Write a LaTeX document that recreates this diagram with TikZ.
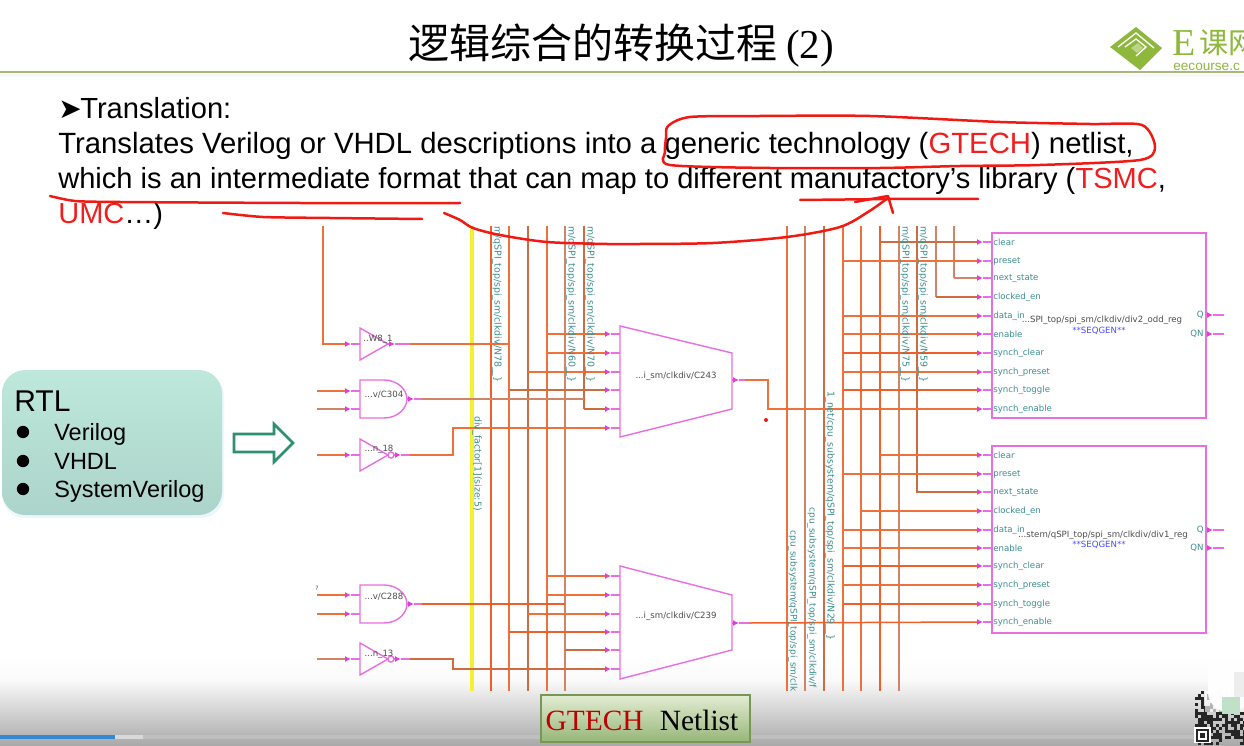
\documentclass[tikz,border=0pt]{standalone}
\usepackage{fontspec}
\usetikzlibrary{arrows.meta,calc}
\setmainfont{Liberation Sans}
\newfontfamily\cjkfont{Noto Sans CJK SC}
\newfontfamily\tmsfont{Liberation Serif}
\newfontfamily\schfont{DejaVu Sans}
\newcommand\pxf[1]{\fontsize{\fpeval{#1*0.6}pt}{\fpeval{#1*0.72}pt}\selectfont}
\definecolor{wireO}{HTML}{F0703A}
\definecolor{wireR}{HTML}{EE5F2A}
\definecolor{wireB}{HTML}{D08468}
\definecolor{wireD}{HTML}{CC6C40}
\definecolor{gatec}{HTML}{E86FE0}
\definecolor{pinc}{HTML}{E040D8}
\definecolor{tealtxt}{HTML}{3B8E90}
\definecolor{inkred}{HTML}{F01A14}
\definecolor{txtred}{HTML}{F01E1E}
\definecolor{logog}{HTML}{8DB83C}
\tikzset{
  x=0.6pt,y=-0.6pt,
  wire/.style={line width=0.9pt,wireO},
  gate/.style={line width=0.85pt,gatec},
  stub/.style={line width=0.75pt,gatec},
  tip/.style={-{Latex[length=3.6pt,width=3.6pt,color=pinc]}},
  ink/.style={line width=1.5pt,inkred,line cap=round,line join=round},
  sch/.style={inner sep=0pt,font=\schfont\pxf{8.6},text=#1},
  sch/.default=black!70,
  pinlab/.style={inner sep=0pt,anchor=west,font=\schfont\pxf{8.6},text=tealtxt},
  vlab/.style={inner sep=0pt,anchor=west,rotate=-90,font=\schfont\pxf{9.4},text=tealtxt},
  vlabs/.style={vlab,font=\schfont\pxf{9.0}},
  line/.style={inner sep=0pt,anchor=base west,font=\pxf{29}},
  rtlitem/.style={inner sep=0pt,anchor=base west,font=\pxf{23.5}},
  dotb/.style={circle,fill=black,inner sep=0pt,minimum size=7.4pt},
}
\newcommand\vbus[5]{\coordinate (#1-t) at (#2,#3);\coordinate (#1-b) at (#2,#4);\draw[wire,#5] (#1-t) -- (#1-b);}
% input pin: body edge #1 at (#2,#3), wire end #1-a
\newcommand\inpin[3]{\coordinate (#1) at (#2,#3);\coordinate (#1-a) at (#2-15,#3);\coordinate (#1-m) at (#2-9,#3);
  \draw[stub,tip] (#1-a) -- (#1-m);\draw[stub] (#1-m) -- (#1);}
\newcommand\outpin[4]{\coordinate (#1) at (#2,#3);\coordinate (#1-e) at (#2+#4,#3);\coordinate (#1-m) at (#2+7,#3);
  \draw[stub,tip] (#1) -- (#1-m);\draw[stub] (#1-m) -- (#1-e);}
\begin{document}
\begin{tikzpicture}
\useasboundingbox (0,0) rectangle (1244,746);
\clip (0,0) rectangle (1244,746);
\fill[white] (0,0) rectangle (1244,746);
% bottom fade
\shade[top color=white,bottom color=black!2] (0,655) rectangle (1244,680);
\shade[top color=black!2,bottom color=black!34] (0,680) rectangle (1244,746);
\fill[black!25] (143,735) rectangle (1244,738.5);
\fill[black!15] (115,735) rectangle (143,738.5);
\fill[cyan!60!blue!85!white] (0,735) rectangle (115,738.5);
% header
\fill[black!3] (0,74) rectangle (1244,77);
\draw[line width=1.6pt,color={rgb,255:red,168;green,184;blue,120}] (0,72) coordinate (hl) -- (1244,72) coordinate (hr);
\node[inner sep=0pt,anchor=base] (title) at (621,59) {\cjkfont\pxf{41}逻辑综合的转换过程 \tmsfont\pxf{41}(2)};
% logo
\fill[logog] (1110,47) -- (1136,27) -- (1162,48) -- (1140,70) -- cycle;
\draw[white,line width=0.8pt] (1118,47) -- (1136,33) -- (1154,48);
\draw[white,line width=0.8pt] (1125,47) -- (1136,39) -- (1146,47) -- (1136,56);
\fill[logog!60!white] (1131,48) -- (1138,43) -- (1143,48) -- (1137,53) -- cycle;
\node[inner sep=0pt,anchor=base west,text=logog] (logoe) at (1172,56) {\tmsfont\pxf{38}E};
\node[inner sep=0pt,anchor=base west,text=logog] (logoc) at (1199,54) {\cjkfont\pxf{29}课网};
\node[inner sep=0pt,anchor=base west,text=logog] (logou) at (1173,71) {\pxf{13.6}eecourse.c};
% slide text
\node[line] (t1a) at (58,119) {\schfont\pxf{28}➤};
\node[line] (t1) at (80,119) {\pxf{29.1}Translation:};
\node[line] (t2) at (58,154) {\pxf{29.3}Translates Verilog or VHDL descriptions into a generic technology (\textcolor{txtred}{GTECH}) netlist,};
\node[line] (t3) at (58,189) {\pxf{29.08}which is an intermediate format that can map to different manufactory’s library (\textcolor{txtred}{TSMC},};
\node[line] (t4) at (58,224) {\textcolor{txtred}{UMC}…)};
% RTL box
\fill[black!12!cyan!8,rounded corners=14pt] (2,373) rectangle (224,518);
\shade[top color={rgb,255:red,190;green,232;blue,219},bottom color={rgb,255:red,172;green,212;blue,202},rounded corners=14pt] (2,370) rectangle (222,515);
\node[inner sep=0pt,anchor=base west,font=\pxf{30}] (rtl) at (14,411) {RTL};
\foreach \n/\y/\tx in {1/432/Verilog,2/461/VHDL,3/489/SystemVerilog}{
  \node[dotb] (bul\n) at (23,\y) {};
  \node[rtlitem] (item\n) at (54,\y+8) {\tx};
}
\draw[line width=1.6pt,color={rgb,255:red,46;green,144;blue,112},fill=white] (234,434) -- (274,434) -- (274,424) -- (293,443) -- (274,462) -- (274,452) -- (234,452) -- cycle;
% buses
\vbus{vy}{472}{226}{691}{line width=2.4pt,color={rgb,255:red,245;green,240;blue,50}}
\vbus{v491}{491}{226}{691}{wireR}
\vbus{v509}{509}{226}{691}{wireO}
\vbus{v528}{528}{226}{691}{wireD}
\vbus{v547}{547}{226}{691}{wireO}
\vbus{v565}{565}{226}{691}{wireB}
\vbus{v584}{584}{226}{409}{wireD}
\vbus{v787}{787}{226}{691}{wireO}
\vbus{v805}{805}{226}{691}{wireB}
\vbus{v824}{824}{226}{691}{wireD}
\vbus{v843}{843}{226}{691}{wireO}
\vbus{v861}{861}{226}{691}{wireO}
\vbus{v880}{880}{226}{691}{wireR}
\vbus{v899}{899}{226}{691}{wireB}
\vbus{v917}{917}{226}{493}{wireD}
\vbus{v936}{936}{226}{297}{wireB}
\vbus{v954}{954}{226}{278}{wireB}
% gates
\draw[gate] (360,328) -- (388,344) -- (360,360) -- cycle;
\draw[gate] (360,439) -- (388,455) -- (360,471) -- cycle;
\draw[gate] (391,455) circle (3);
\draw[gate] (360,643) -- (388,659) -- (360,675) -- cycle;
\draw[gate] (391,659) circle (3);
\draw[gate] (360,380) -- (384,380) .. controls (398,380) and (407,390) .. (407,399) .. controls (407,408) and (398,418) .. (384,418) -- (360,418) -- cycle;
\draw[gate] (360,585) -- (384,585) .. controls (398,585) and (407,595) .. (407,604) .. controls (407,613) and (398,623) .. (384,623) -- (360,623) -- cycle;
% muxes
\draw[gate] (620,326) -- (732,353) -- (732,409) -- (620,437) -- cycle;
\draw[gate] (620,566) -- (732,595) -- (732,650) -- (620,679) -- cycle;
% registers
\draw[gate] (992,233) rectangle (1206,418);
\draw[gate] (992,446) rectangle (1206,633);
% gate pins
\inpin{w8i}{360}{344}
\outpin{w8o}{388}{344}{22}
\inpin{c304a}{360}{391}
\inpin{c304b}{360}{409}
\outpin{c304o}{407}{399}{15}
\inpin{n18i}{360}{455}
\outpin{n18o}{394}{455}{16}
\inpin{c288a}{360}{595}
\inpin{c288b}{360}{614}
\outpin{c288o}{407}{604}{15}
\inpin{n13i}{360}{659}
\outpin{n13o}{394}{659}{16}
% free wire ends
\coordinate (f323) at (323,226);
\coordinate (f304a) at (317,391);
\coordinate (f304b) at (317,409);
\coordinate (f18) at (317,455);
\coordinate (f288a) at (317,595);
\coordinate (f288b) at (317,614);
\coordinate (f13) at (317,659);
\draw[wire] (f323) |- (w8i-a);
\draw[wire] (f304a) -- (c304a-a);
\draw[wire,wireB] (f304b) -- (c304b-a);
\draw[wire] (f18) -- (n18i-a);
\draw[wire] (f288a) -- (c288a-a);
\draw[wire] (f288b) -- (c288b-a);
\draw[wire,wireB] (f13) -- (n13i-a);
\draw[wire] (w8o-e) -- (v509-t |- w8o-e);
\draw[wire,wireB] (c304o-e) -- (v584-t |- c304o-e);
\draw[wire,wireR] (c288o-e) -- (v565-t |- c288o-e);
% C243 inputs
\foreach \n/\y in {1/334,2/353,3/372,4/390,5/409,6/428}{
  \inpin{mA\n}{620}{\y}
}
\foreach \n/\vv/\cc in {1/v547/wireO,2/v547/wireO,3/v528/wireO,4/v509/wireD,5/v584/wireD}{
  \draw[wire,\cc] (\vv-t |- mA\n-a) -- (mA\n-a);
}
\coordinate (n18j) at (453,455);
\draw[wire] (n18o-e) -- (n18j) |- (mA6-a);
% C239 inputs
\foreach \n/\y in {1/576,2/595,3/614,4/632,5/650,6/669}{
  \inpin{mB\n}{620}{\y}
}
\foreach \n/\vv/\cc in {1/v547/wireO,2/v547/wireO,3/v528/wireO,4/v509/wireR,5/v565/wireD}{
  \draw[wire,\cc] (\vv-t |- mB\n-a) -- (mB\n-a);
}
\coordinate (n13j) at (453,659);
\draw[wire,wireD] (n13o-e) -- (n13j) |- (mB6-a);
% register pins
\foreach \n/\y/\tx in {1/242/clear,2/261/preset,3/278/next\_state,4/297/clocked\_en,5/316/data\_in,6/334/enable,7/353/synch\_clear,8/372/synch\_preset,9/390/synch\_toggle,10/409/synch\_enable}{
  \inpin{rA\n}{992}{\y}
  \node[pinlab] (rAl\n) at (993,\y) {\tx};
}
\foreach \n/\y/\tx in {1/455/clear,2/474/preset,3/492/next\_state,4/511/clocked\_en,5/530/data\_in,6/548/enable,7/566/synch\_clear,8/585/synch\_preset,9/604/synch\_toggle,10/622/synch\_enable}{
  \inpin{rB\n}{992}{\y}
  \node[pinlab] (rBl\n) at (993,\y) {\tx};
}
\foreach \n/\vv/\cc in {1/v880/wireD,2/v843/wireO,3/v954/wireB,4/v936/wireD,5/v843/wireO,6/v843/wireO,7/v843/wireR,8/v843/wireO,9/v843/wireR}{
  \draw[wire,\cc] (\vv-t |- rA\n-a) -- (rA\n-a);
}
\foreach \n/\vv/\cc in {1/v880/wireO,2/v843/wireO,3/v917/wireD,4/v861/wireO,5/v843/wireO,6/v843/wireO,7/v843/wireR,8/v843/wireO,9/v843/wireR}{
  \draw[wire,\cc] (\vv-t |- rB\n-a) -- (rB\n-a);
}
% mux outputs
\outpin{mAo}{732}{380}{13}
\coordinate (jog) at (768,409);
\draw[wire] (mAo-e) -| (jog) -- (rA10-a);
\outpin{mBo}{732}{623}{18}
\draw[wire,wireR] (mBo-e) -- (rB10-a);
\fill[inkred] (766,420) circle (2);
% register outputs
\outpin{qA}{1206}{315}{18}
\outpin{qnA}{1206}{334}{18}
\outpin{qB}{1206}{530}{18}
\outpin{qnB}{1206}{548}{18}
\node[pinlab,anchor=east] (qAl) at (1204,315) {Q};
\node[pinlab,anchor=east] (qnAl) at (1204,334) {QN};
\node[pinlab,anchor=east] (qBl) at (1204,530) {Q};
\node[pinlab,anchor=east] (qnBl) at (1204,548) {QN};
% schematic labels
\node[sch] (lw8) at (378,339) {..W8\_1};
\node[sch] (lc304) at (384,395) {...v/C304};
\node[sch] (ln18) at (379,449) {...n\_18};
\node[sch] (lc288) at (384,597) {...v/C288};
\node[sch] (ln13) at (379,654) {...n\_13};
\node[sch] (lqm) at (317,588) {\pxf{6}?};
\node[sch] (lmA) at (676,376) {...i\_sm/clkdiv/C243};
\node[sch] (lmB) at (676,616) {...i\_sm/clkdiv/C239};
\node[sch] (lrA) at (1102,320) {...SPI\_top/spi\_sm/clkdiv/div2\_odd\_reg};
\node[sch=blue!70!white] (lrAs) at (1099,331) {**SEQGEN**};
\node[sch] (lrB) at (1103,535) {...stem/qSPI\_top/spi\_sm/clkdiv/div1\_reg};
\node[sch=blue!70!white] (lrBs) at (1099,545) {**SEQGEN**};
\node[vlab] (la1) at (497,226) {m/qSPI\_top/spi\_sm/clkdiv/N78\_\_\}};
\node[vlab] (la2) at (571,226) {m/qSPI\_top/spi\_sm/clkdiv/N60\_\_\}};
\node[vlab] (la3) at (590,226) {m/qSPI\_top/spi\_sm/clkdiv/N70\_\_\}};
\node[vlab] (la4) at (477,416) {div\_factor[1](size:5)};
\node[vlab] (la5) at (905,226) {m/qSPI\_top/spi\_sm/clkdiv/N75\_\_\}};
\node[vlab] (la6) at (923,226) {m/qSPI\_top/spi\_sm/clkdiv/N59\_\_\}};
\node[vlab] (la7) at (830,391) {1\_net/cpu\_subsystem/qSPI\_top/spi\_sm/clkdiv/N29\_\_\}};
\node[vlabs] (la8) at (812,507) {cpu\_subsystem/qSPI\_top/spi\_sm/clkdiv/f};
\node[vlabs] (la9) at (793,530) {cpu\_subsystem/qSPI\_top/spi\_sm/clk};
% GTECH Netlist box
\shade[top color={rgb,255:red,226;green,236;blue,210},bottom color={rgb,255:red,150;green,182;blue,120}] (541,695) rectangle (750,742);
\draw[line width=0.8pt,color={rgb,255:red,120;green,150;blue,85}] (541,695) rectangle (750,742);
\node[inner sep=0pt,anchor=base] (gt) at (642,730) {\tmsfont\pxf{29.4}\textcolor{red!75!black}{GTECH}\hspace{0.55em}Netlist};
% QR corner
\pgfmathsetseed{11}
\foreach \i in {0,...,16}{\foreach \j in {0,...,17}{
  \pgfmathsetmacro{\rr}{rnd}
  \ifdim\rr pt<0.52pt
    \fill[black!85] (1195+3*\i,691+3*\j) rectangle ++(3,3);
  \fi
}}
\fill[white] (1194,727) rectangle (1211,743);
\draw[black!85,line width=1.2pt] (1197,730) rectangle (1208,741);
\fill[black!85] (1200,733) rectangle (1205,738);
\fill[white,opacity=0.97,rounded corners=12pt] (1208,653) rectangle (1250,712);
\fill[white] (1226,646) -- (1232,643) -- (1240,654) -- (1230,656) -- cycle;
\fill[white,opacity=0.65] (1205,691) rectangle (1244,712);
\fill[color={rgb,255:red,190;green,225;blue,200}] (1222,697) rectangle (1240,714);
\fill[black!7] (1234,672) rectangle (1244,697);
% handwriting
\draw[ink] plot[smooth cycle,tension=0.45] coordinates {(666,138) (668,126) (690,117) (760,116) (870,116) (1000,122) (1090,124) (1142,125) (1155,147) (1140,160) (1040,165) (960,166) (880,168) (770,168) (670,165) (665,152)};
\draw[ink] plot[smooth,tension=0.4] coordinates {(50,196) (75,201) (120,202) (300,203) (460,203)};
\draw[ink] plot[smooth,tension=0.4] coordinates {(223,213) (263,217) (330,218) (422,219)};
\draw[ink] (800,200) -- (890,199) -- (978,199);
\draw[ink] plot[smooth,tension=0.5] coordinates {(444,213) (460,220) (473,228) (500,235) (547,242) (607,244) (640,244) (713,243) (787,237) (840,227) (868,212) (888,198)};
\draw[ink] (855,202) -- (888,196) -- (893,213);
\end{tikzpicture}
\end{document}
